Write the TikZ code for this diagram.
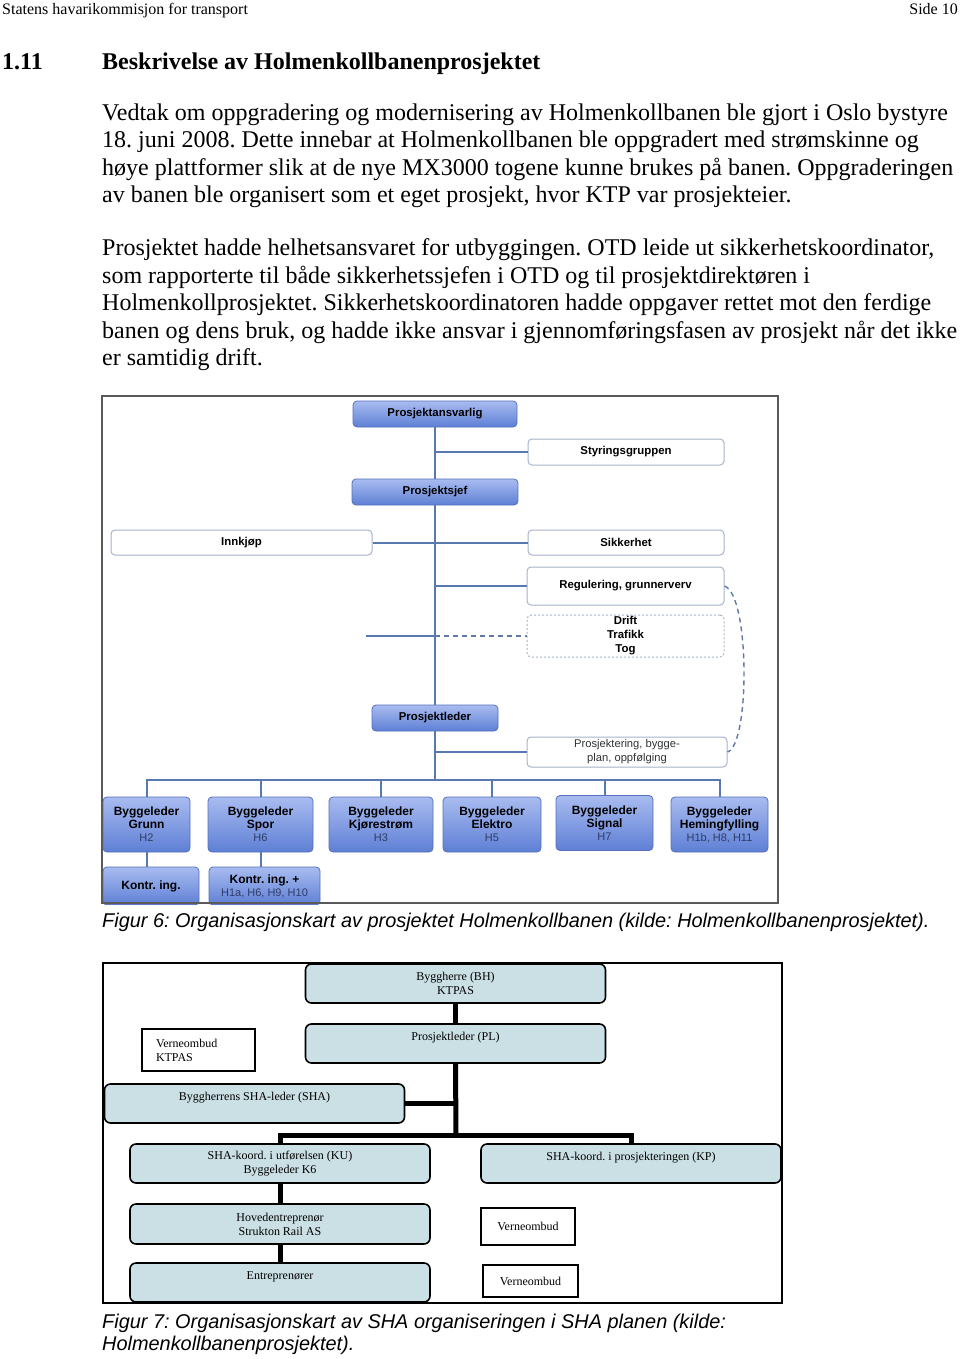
\documentclass[tikz,border=0pt]{standalone}
\usepackage{fontspec}
\setmainfont{Liberation Serif}
\setsansfont{Liberation Sans}
\usepackage{xcolor}
\usepackage{tikz}
\frenchspacing
\definecolor{frm}{HTML}{5A5A5A}
\definecolor{lnblue}{HTML}{5878B0}
\definecolor{btop}{HTML}{A9BCF0}
\definecolor{bbot}{HTML}{5E7FD5}
\definecolor{bdraw}{HTML}{5570BC}
\definecolor{wdraw}{HTML}{A6B3CC}
\definecolor{sub}{HTML}{2E3C66}
\definecolor{shafill}{HTML}{CBE0E5}
\newcommand{\hsub}[1]{{\mdseries\fontsize{11}{13}\selectfont\color{sub}#1}}
\tikzset{
  ln/.style={draw=lnblue, line width=2pt},
  dsh/.style={draw=lnblue!80!gray, line width=1.4pt, dash pattern=on 5pt off 4pt},
  blu/.style={draw=bdraw, line width=0.8pt, rounded corners=4pt, top color=btop, bottom color=bbot,
    font=\sffamily\bfseries\fontsize{11.4}{14}\selectfont, align=center, inner sep=0pt},
  bgl/.style={blu, font=\sffamily\bfseries\fontsize{12}{13}\selectfont},
  wht/.style={draw=wdraw, line width=1pt, rounded corners=4pt, fill=white,
    font=\sffamily\bfseries\fontsize{11.4}{14}\selectfont, align=center, inner sep=0pt},
  drf/.style={wht, dash pattern=on 2pt off 2pt},
  shb/.style={draw=black, line width=1.6pt, rounded corners=6pt, fill=shafill,
    font=\fontsize{12}{14}\selectfont, align=center, inner sep=0pt, minimum width=300pt, minimum height=39pt},
  vob/.style={draw=black, line width=1.6pt, fill=white, font=\fontsize{12}{14}\selectfont, inner sep=0pt},
  thk/.style={draw=black, line width=5pt},
  txt/.style={anchor=base west, inner sep=0pt, font=\fontsize{24}{28}\selectfont},
  figcap/.style={anchor=base west, inner sep=0pt, font=\sffamily\itshape\fontsize{19.9}{23}\selectfont},
}
\begin{document}
\begin{tikzpicture}[x=1pt, y=-1pt]
\useasboundingbox[fill=white] (0,0) rectangle (960,1359);

% page text
\node[anchor=base west, inner sep=0pt, font=\fontsize{16}{18}\selectfont] (hd) at (2,15) {Statens havarikommisjon for transport};
\node[anchor=base east, inner sep=0pt, font=\fontsize{16}{18}\selectfont] (pg) at (958,15) {Side 10};
\node[txt, font=\bfseries\fontsize{24}{28}\selectfont] (sec) at (2,70) {1.11};
\node[txt, font=\bfseries\fontsize{24}{28}\selectfont] (ttl) at (102,70) {Beskrivelse av Holmenkollbanenprosjektet};
\node[txt] (l1) at (102,121) {Vedtak om oppgradering og modernisering av Holmenkollbanen ble gjort i Oslo bystyre};
\node[txt] (l2) at (102,148) {18. juni 2008. Dette innebar at Holmenkollbanen ble oppgradert med strømskinne og};
\node[txt] (l3) at (102,176) {høye plattformer slik at de nye MX3000 togene kunne brukes på banen. Oppgraderingen};
\node[txt] (l4) at (102,203) {av banen ble organisert som et eget prosjekt, hvor KTP var prosjekteier.};
\node[txt] (l5) at (102,255) {Prosjektet hadde helhetsansvaret for utbyggingen. OTD leide ut sikkerhetskoordinator,};
\node[txt] (l6) at (102,283) {som rapporterte til både sikkerhetssjefen i OTD og til prosjektdirektøren i};
\node[txt] (l7) at (102,310) {Holmenkollprosjektet. Sikkerhetskoordinatoren hadde oppgaver rettet mot den ferdige};
\node[txt] (l8) at (102,338) {banen og dens bruk, og hadde ikke ansvar i gjennomføringsfasen av prosjekt når det ikke};
\node[txt] (l9) at (102,365) {er samtidig drift.};

% figur 6
\node[blu, minimum width=164pt, minimum height=26pt] (pa) at (435,414) {Prosjektansvarlig};
\node[wht, minimum width=196pt, minimum height=26pt] (sg) at (626,452) {Styringsgruppen};
\node[blu, minimum width=166pt, minimum height=26pt] (ps) at (435,492) {Prosjektsjef};
\node[wht, minimum width=261pt, minimum height=25pt] (ik) at (241.5,542.5) {Innkjøp};
\node[wht, minimum width=196pt, minimum height=25pt] (sh) at (626,542.5) {Sikkerhet};
\node[wht, minimum width=197pt, minimum height=38pt] (rg) at (625.5,586) {Regulering, grunnerverv};
\node[drf, minimum width=197pt, minimum height=42pt] (dr) at (625.5,636) {Drift\\Trafikk\\Tog};
\node[blu, minimum width=126pt, minimum height=26pt] (pl) at (435,718) {Prosjektleder};
\node[wht, minimum width=200pt, minimum height=30pt, font=\sffamily\fontsize{11.2}{14}\selectfont, text=black!80] (pj) at (627,752) {Prosjektering, bygge-\\plan, oppfølging};

\node[bgl, minimum width=87pt, minimum height=55pt] (b1) at (146.5,824.5) {Byggeleder\\Grunn\\\hsub{H2}};
\node[bgl, minimum width=105pt, minimum height=55pt] (b2) at (260.5,824.5) {Byggeleder\\Spor\\\hsub{H6}};
\node[bgl, minimum width=104pt, minimum height=55pt] (b3) at (381,824.5) {Byggeleder\\Kjørestrøm\\\hsub{H3}};
\node[bgl, minimum width=98pt, minimum height=55pt] (b4) at (492,824.5) {Byggeleder\\Elektro\\\hsub{H5}};
\node[bgl, minimum width=97pt, minimum height=55pt] (b5) at (604.5,823) {Byggeleder\\Signal\\\hsub{H7}};
\node[bgl, minimum width=97pt, minimum height=55pt] (b6) at (719.5,824.5) {Byggeleder\\Hemingfylling\\\hsub{H1b, H8, H11}};
\node[bgl, minimum width=96pt, minimum height=38pt] (k1) at (151,886) {Kontr. ing.};
\node[bgl, minimum width=111pt, minimum height=38pt] (k2) at (264.5,886) {Kontr. ing. +\\\hsub{H1a, H6, H9, H10}};

\coordinate (bus) at (435,780);
\coordinate (stub) at (366,636);
\draw[ln] (pa) -- (ps);
\draw[ln] (pa.south |- sg.west) -- (sg.west);
\draw[ln] (ps.south) -- (ps.south |- pl.north);
\draw[ln] (ik.east) -- (sh.west);
\draw[ln] (ps.south |- rg.west) -- (rg.west);
\draw[ln] (stub) -- (ps.south |- dr.west);
\draw[dsh] (ps.south |- dr.west) -- (dr.west);
\draw[ln] (pl.south) -- (pl.south |- pj.west) -- (pj.west);
\draw[ln] (pl.south |- pj.west) -- (bus);
\draw[ln] (b1.north) |- (bus) -| (b6.north);
\foreach \b in {b2,b3,b4,b5} \draw[ln] (\b.north) -- (\b.north |- bus);
\draw[ln] (b1.south) -- (b1.south |- k1.north);
\draw[ln] (b2.south) -- (b2.south |- k2.north);
\draw[dsh] (rg.east) .. controls (750,595) and (750,745) .. (pj.east);
\draw[frm, line width=1.5pt] (102,396) rectangle (778,903);
\fill[white] (100,904.5) rectangle (780,912);

\node[figcap] (cap6) at (102,927) {Figur 6: Organisasjonskart av prosjektet Holmenkollbanen (kilde: Holmenkollbanenprosjektet).};

% figur 7
\draw[black, line width=2pt] (103,963) rectangle (782,1303);
\node[shb] (bh) at (455.5,983.5) {Byggherre (BH)\\KTPAS};
\node[shb] (pl2) at (455.5,1043.5) {Prosjektleder (PL)\\~};
\node[vob, minimum width=113pt, minimum height=42pt, text width=85pt, align=left, inner xsep=14pt] (vo1) at (198.5,1050) {Verneombud\\KTPAS};
\node[shb] (sha) at (254.5,1103.5) {Byggherrens SHA-leder (SHA)\\~};
\node[shb] (ku) at (280,1163.5) {SHA-koord. i utførelsen (KU)\\Byggeleder K6};
\node[shb] (kp) at (631,1163.5) {SHA-koord. i prosjekteringen (KP)\\~};
\node[shb, minimum height=40pt] (he) at (280,1224) {Hovedentreprenør\\Strukton Rail AS};
\node[vob, minimum width=94pt, minimum height=37pt] (vo2) at (528,1226.5) {Verneombud};
\node[shb] (en) at (280,1282.5) {Entreprenører\\~};
\node[vob, minimum width=95pt, minimum height=32pt] (vo3) at (530.5,1281) {Verneombud};

\coordinate (bus2) at (456,1135);
\draw[thk] (bh) -- (pl2);
\draw[thk] (pl2.south) -- (bus2);
\draw[thk] (sha.east) -- (pl2.south |- sha.east);
\draw[thk] (ku.north) |- (bus2) -| (kp.north);
\draw[thk] (ku) -- (he);
\draw[thk] (he) -- (en);

\node[figcap] (cap7a) at (102,1328) {Figur 7: Organisasjonskart av SHA organiseringen i SHA planen (kilde:};
\node[figcap] (cap7b) at (102,1350) {Holmenkollbanenprosjektet).};
\end{tikzpicture}
\end{document}
